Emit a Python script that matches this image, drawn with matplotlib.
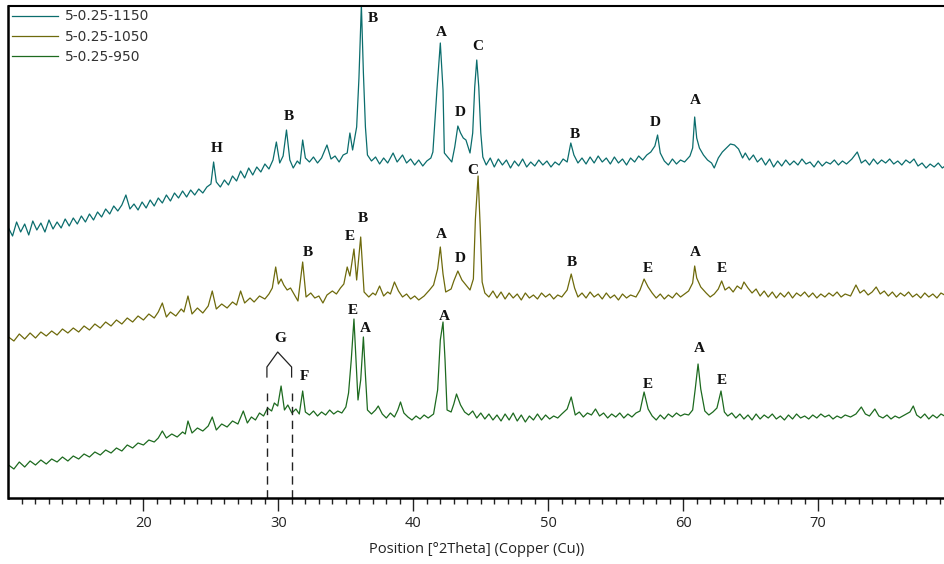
import numpy as np
import matplotlib.pyplot as plt

# ---- data (x in deg 2theta, intensity in plot units) ----
pts_1150 = [
    (10.0, 270), (10.3, 262), (10.6, 276), (10.9, 266), (11.2, 274), (11.5, 263), (11.8, 277), (12.1, 268),
    (12.4, 275), (12.7, 266), (13.0, 278), (13.3, 269), (13.6, 276), (13.9, 270), (14.2, 279), (14.5, 272),
    (14.8, 280), (15.1, 274), (15.4, 282), (15.7, 276), (16.0, 284), (16.3, 278), (16.6, 286), (16.9, 281),
    (17.2, 289), (17.5, 284), (17.8, 292), (18.1, 287), (18.4, 293), (18.7, 303), (19.0, 289), (19.3, 294),
    (19.6, 288), (19.9, 296), (20.2, 290), (20.5, 298), (20.8, 292), (21.1, 300), (21.4, 295), (21.7, 303),
    (22.0, 297), (22.3, 305), (22.6, 300), (22.9, 307), (23.2, 301), (23.5, 308), (23.8, 303), (24.1, 309),
    (24.4, 305), (24.7, 311), (25.0, 314), (25.2, 336), (25.4, 316), (25.7, 311), (26.0, 318), (26.3, 313),
    (26.6, 322), (26.9, 317), (27.2, 327), (27.5, 320), (27.8, 330), (28.1, 323), (28.4, 331), (28.7, 326),
    (29.0, 334), (29.3, 329), (29.6, 338), (29.85, 356), (30.1, 335), (30.35, 342), (30.6, 368), (30.85, 338),
    (31.1, 330), (31.4, 337), (31.6, 334), (31.8, 358), (32.0, 340), (32.3, 336), (32.6, 341), (32.9, 335),
    (33.2, 340), (33.6, 353), (33.9, 339), (34.2, 342), (34.5, 336), (34.8, 343), (35.1, 345), (35.3, 365),
    (35.5, 348), (35.8, 371), (35.97, 420), (36.15, 493), (36.3, 425), (36.45, 371), (36.6, 343), (36.9, 337),
    (37.2, 341), (37.5, 334), (37.8, 340), (38.1, 335), (38.5, 345), (38.8, 336), (39.2, 343), (39.5, 335),
    (39.8, 339), (40.1, 333), (40.4, 338), (40.7, 332), (41.0, 337), (41.3, 340), (41.45, 346), (41.75, 408),
    (42.0, 455), (42.2, 408), (42.3, 345), (42.6, 340), (42.85, 336), (43.07, 351), (43.3, 372), (43.5, 365),
    (43.7, 360), (43.9, 358), (44.2, 345), (44.4, 365), (44.55, 411), (44.7, 438), (44.85, 411), (45.0, 365),
    (45.15, 341), (45.4, 333), (45.7, 340), (46.0, 331), (46.3, 339), (46.6, 333), (46.9, 338), (47.2, 330),
    (47.5, 337), (47.8, 332), (48.1, 339), (48.4, 331), (48.7, 336), (49.0, 332), (49.3, 338), (49.6, 333),
    (49.9, 337), (50.2, 331), (50.5, 336), (50.8, 333), (51.1, 339), (51.4, 336), (51.67, 355), (51.9, 343),
    (52.2, 335), (52.5, 340), (52.8, 334), (53.1, 341), (53.4, 335), (53.7, 342), (54.0, 336), (54.3, 340),
    (54.6, 334), (54.9, 341), (55.2, 335), (55.5, 339), (55.8, 333), (56.1, 340), (56.4, 336), (56.7, 342),
    (57.0, 338), (57.3, 343), (57.6, 346), (57.9, 352), (58.1, 363), (58.3, 345), (58.6, 337), (58.9, 333),
    (59.2, 339), (59.5, 334), (59.8, 338), (60.1, 336), (60.5, 342), (60.7, 350), (60.85, 381), (61.0, 360),
    (61.2, 350), (61.5, 343), (61.8, 338), (62.1, 335), (62.3, 330), (62.6, 340), (62.9, 346), (63.2, 350),
    (63.5, 354), (63.8, 353), (64.1, 349), (64.4, 340), (64.6, 345), (64.9, 338), (65.2, 343), (65.5, 336),
    (65.8, 340), (66.1, 333), (66.4, 339), (66.7, 331), (67.0, 337), (67.3, 332), (67.6, 338), (67.9, 333),
    (68.2, 337), (68.5, 333), (68.8, 339), (69.1, 334), (69.4, 336), (69.7, 331), (70.0, 337), (70.3, 332),
    (70.6, 336), (70.9, 334), (71.2, 338), (71.5, 333), (71.8, 337), (72.1, 334), (72.5, 339), (72.9, 346),
    (73.2, 335), (73.5, 338), (73.8, 333), (74.1, 339), (74.4, 334), (74.7, 338), (75.0, 335), (75.3, 339),
    (75.6, 334), (75.9, 337), (76.2, 333), (76.5, 338), (76.8, 335), (77.1, 339), (77.4, 332), (77.7, 335),
    (78.0, 330), (78.3, 334), (78.6, 331), (78.9, 335), (79.2, 330), (79.5, 333),
]

pts_1050 = [
    (10.0, 161), (10.4, 157), (10.8, 164), (11.2, 159), (11.6, 165), (12.0, 160), (12.4, 166), (12.8, 162),
    (13.2, 167), (13.6, 163), (14.0, 169), (14.4, 165), (14.8, 170), (15.2, 166), (15.6, 172), (16.0, 168),
    (16.4, 174), (16.8, 170), (17.2, 176), (17.6, 172), (18.0, 178), (18.4, 174), (18.8, 180), (19.2, 176),
    (19.6, 182), (20.0, 178), (20.4, 184), (20.8, 180), (21.1, 186), (21.4, 195), (21.7, 181), (22.0, 186),
    (22.4, 182), (22.8, 189), (23.0, 186), (23.3, 202), (23.6, 184), (24.0, 190), (24.4, 185), (24.8, 192),
    (25.1, 207), (25.4, 189), (25.8, 194), (26.2, 190), (26.6, 196), (26.9, 193), (27.2, 207), (27.5, 195),
    (27.9, 200), (28.2, 196), (28.6, 202), (29.0, 199), (29.3, 204), (29.55, 210), (29.8, 231), (30.0, 214),
    (30.2, 219), (30.4, 213), (30.65, 208), (30.9, 210), (31.2, 203), (31.45, 197), (31.8, 236), (32.05, 201),
    (32.4, 205), (32.7, 200), (33.0, 202), (33.3, 195), (33.6, 203), (34.0, 207), (34.3, 204), (34.6, 210),
    (34.85, 214), (35.1, 231), (35.3, 222), (35.6, 249), (35.8, 218), (36.1, 261), (36.35, 206), (36.7, 201),
    (37.0, 205), (37.2, 203), (37.5, 212), (37.8, 202), (38.1, 206), (38.3, 204), (38.6, 216), (38.9, 207),
    (39.2, 201), (39.5, 204), (39.8, 199), (40.1, 202), (40.4, 198), (40.8, 202), (41.2, 208), (41.5, 213),
    (41.8, 229), (42.0, 251), (42.2, 224), (42.4, 206), (42.8, 209), (43.0, 217), (43.3, 227), (43.6, 218),
    (43.9, 213), (44.2, 208), (44.45, 219), (44.6, 279), (44.8, 322), (44.95, 273), (45.1, 216), (45.3, 205),
    (45.6, 201), (45.9, 207), (46.2, 200), (46.5, 206), (46.8, 199), (47.1, 205), (47.4, 200), (47.7, 204),
    (48.0, 198), (48.3, 205), (48.6, 200), (48.9, 203), (49.2, 199), (49.5, 205), (49.8, 201), (50.1, 204),
    (50.4, 199), (50.7, 203), (51.0, 201), (51.4, 208), (51.7, 224), (51.95, 210), (52.2, 201), (52.5, 205),
    (52.8, 200), (53.1, 206), (53.4, 201), (53.7, 204), (54.0, 199), (54.3, 205), (54.6, 200), (54.9, 203),
    (55.2, 198), (55.5, 204), (55.8, 200), (56.1, 203), (56.5, 201), (56.8, 208), (57.1, 219), (57.4, 211),
    (57.7, 205), (58.0, 200), (58.3, 204), (58.6, 199), (58.9, 203), (59.2, 200), (59.5, 205), (59.8, 201),
    (60.1, 204), (60.4, 207), (60.7, 215), (60.85, 232), (61.0, 220), (61.3, 211), (61.7, 205), (62.0, 201),
    (62.3, 204), (62.6, 209), (62.85, 217), (63.1, 208), (63.4, 211), (63.7, 206), (64.0, 212), (64.3, 209),
    (64.5, 216), (64.8, 210), (65.1, 205), (65.4, 209), (65.7, 202), (66.0, 207), (66.3, 201), (66.6, 206),
    (66.9, 200), (67.2, 205), (67.5, 201), (67.8, 206), (68.1, 200), (68.4, 205), (68.7, 202), (69.0, 206),
    (69.3, 201), (69.6, 205), (69.9, 200), (70.2, 204), (70.5, 201), (70.8, 205), (71.1, 202), (71.4, 206),
    (71.7, 201), (72.0, 204), (72.4, 202), (72.8, 213), (73.1, 205), (73.4, 208), (73.7, 203), (74.0, 206),
    (74.3, 211), (74.6, 204), (74.9, 207), (75.2, 202), (75.5, 206), (75.8, 201), (76.1, 205), (76.4, 202),
    (76.7, 206), (77.0, 201), (77.3, 204), (77.6, 200), (77.9, 205), (78.2, 201), (78.5, 204), (78.8, 200),
    (79.1, 205), (79.5, 202),
]

pts_950 = [
    (10.0, 33), (10.4, 29), (10.8, 36), (11.2, 31), (11.6, 37), (12.0, 33), (12.4, 38), (12.8, 34),
    (13.2, 39), (13.6, 36), (14.0, 41), (14.4, 37), (14.8, 42), (15.2, 39), (15.6, 44), (16.0, 41),
    (16.4, 46), (16.8, 43), (17.2, 48), (17.6, 45), (18.0, 50), (18.4, 47), (18.8, 53), (19.2, 50),
    (19.6, 55), (20.0, 53), (20.4, 58), (20.8, 56), (21.1, 60), (21.4, 67), (21.7, 60), (22.1, 64),
    (22.5, 61), (22.9, 66), (23.1, 64), (23.3, 77), (23.6, 65), (24.0, 70), (24.4, 67), (24.8, 72),
    (25.1, 81), (25.4, 68), (25.8, 74), (26.2, 71), (26.6, 77), (27.0, 74), (27.4, 87), (27.7, 75),
    (28.0, 81), (28.3, 78), (28.6, 85), (28.9, 82), (29.2, 90), (29.5, 87), (29.7, 95), (29.95, 92),
    (30.2, 112), (30.45, 88), (30.7, 93), (31.0, 85), (31.3, 89), (31.55, 84), (31.8, 107), (32.0, 86),
    (32.3, 83), (32.6, 87), (32.9, 82), (33.2, 86), (33.5, 83), (33.8, 88), (34.1, 84), (34.4, 87),
    (34.7, 85), (35.0, 91), (35.2, 105), (35.4, 138), (35.6, 179), (35.75, 138), (35.9, 98), (36.1, 118),
    (36.3, 161), (36.45, 123), (36.6, 88), (36.9, 84), (37.2, 88), (37.4, 92), (37.7, 84), (38.0, 80),
    (38.3, 85), (38.6, 81), (38.85, 88), (39.05, 96), (39.3, 85), (39.6, 81), (39.9, 78), (40.2, 82),
    (40.5, 79), (40.8, 83), (41.1, 80), (41.5, 84), (41.8, 108), (42.0, 158), (42.2, 176), (42.35, 138),
    (42.5, 88), (42.8, 86), (43.0, 94), (43.2, 104), (43.5, 93), (43.8, 86), (44.1, 83), (44.4, 87),
    (44.7, 80), (45.0, 85), (45.3, 79), (45.6, 84), (45.9, 78), (46.2, 83), (46.5, 77), (46.8, 84),
    (47.1, 78), (47.4, 85), (47.7, 77), (48.0, 83), (48.3, 76), (48.6, 82), (48.9, 78), (49.2, 84),
    (49.5, 78), (49.8, 83), (50.1, 79), (50.4, 82), (50.7, 80), (51.0, 84), (51.4, 89), (51.7, 101),
    (52.0, 83), (52.3, 86), (52.6, 81), (52.9, 85), (53.2, 83), (53.5, 89), (53.8, 82), (54.1, 85),
    (54.4, 80), (54.7, 84), (55.0, 81), (55.3, 85), (55.6, 80), (55.9, 84), (56.2, 81), (56.5, 85),
    (56.8, 87), (57.1, 106), (57.4, 89), (57.7, 82), (58.0, 78), (58.3, 83), (58.6, 79), (58.9, 84),
    (59.2, 81), (59.5, 85), (59.8, 82), (60.1, 84), (60.4, 83), (60.7, 88), (60.9, 110), (61.1, 134),
    (61.3, 109), (61.6, 87), (61.9, 83), (62.2, 86), (62.5, 90), (62.8, 107), (63.05, 86), (63.3, 82),
    (63.6, 85), (63.9, 80), (64.2, 84), (64.5, 79), (64.8, 83), (65.1, 78), (65.4, 84), (65.7, 79),
    (66.0, 83), (66.3, 80), (66.6, 84), (66.9, 79), (67.2, 82), (67.5, 78), (67.8, 83), (68.1, 79),
    (68.4, 84), (68.7, 80), (69.0, 82), (69.3, 79), (69.6, 83), (69.9, 80), (70.2, 84), (70.5, 81),
    (70.8, 83), (71.1, 79), (71.4, 82), (71.7, 80), (72.0, 83), (72.4, 81), (72.8, 84), (73.2, 91),
    (73.5, 84), (73.8, 82), (74.2, 89), (74.5, 82), (74.8, 80), (75.1, 83), (75.4, 79), (75.7, 82),
    (76.0, 80), (76.4, 83), (76.8, 86), (77.05, 92), (77.3, 83), (77.6, 80), (77.9, 84), (78.2, 79),
    (78.5, 83), (78.8, 80), (79.1, 84), (79.5, 81),
]

labels = ["5-0.25-1150", "5-0.25-1050", "5-0.25-950"]
colors = ["#0b6d6d", "#6e6a0c", "#1d6a1f"]

# peak letters: (letter, x, y)
marks_1150 = [("H", 25.44, 350), ("B", 30.75, 382), ("B", 36.98, 479), ("A", 42.05, 466),
              ("D", 43.5, 385), ("C", 44.8, 451), ("B", 51.96, 363), ("D", 57.96, 375),
              ("A", 60.9, 397)]
marks_1050 = [("B", 32.15, 245), ("E", 35.3, 262), ("B", 36.26, 280), ("A", 42.06, 263),
              ("D", 43.45, 239), ("C", 44.38, 327), ("B", 51.74, 235), ("E", 57.35, 229),
              ("A", 60.9, 246), ("E", 62.86, 230)]
marks_950 = [("G", 30.11, 160), ("F", 31.96, 121), ("E", 35.5, 188), ("A", 36.48, 169),
             ("A", 42.27, 181), ("E", 57.35, 114), ("A", 61.2, 150), ("E", 62.86, 118)]

# G bracket and dashed markers
g_left, g_right, g_mid = 29.15, 30.98, 29.95

fig = plt.figure(figsize=(9.45, 5.64), dpi=100)
ax = fig.add_axes([8.5 / 945, 66 / 564, 936.5 / 945, 492 / 564])

for pts, lab, col in zip([pts_1150, pts_1050, pts_950], labels, colors):
    xy = np.array(pts)
    ax.plot(xy[:, 0], xy[:, 1], color=col, lw=0.9, label=lab)

for marks in [marks_1150, marks_1050, marks_950]:
    for t, x, y in marks:
        ax.text(x, y, t, ha="center", va="center", fontsize=11, fontweight="bold",
                family="Liberation Serif", color="#111111")

ax.plot([g_left, g_left, g_mid, g_right, g_right], [121, 131, 146, 131, 121], color="#222222", lw=0.9)
for gx in [g_left, g_right]:
    ax.plot([gx, gx], [0, 105], color="#222222", lw=1.0, ls=(0, (6, 4)))

ax.set_xlim(10, 79.4)
ax.set_ylim(0, 492)
ax.set_yticks([])
ax.set_xticks(range(20, 80, 10))
ax.set_xticks(range(11, 80), minor=True)
ax.tick_params(axis="x", which="major", length=9, width=1, pad=4, labelsize=10.5, colors="#222222")
ax.tick_params(axis="x", which="minor", length=4, width=1, colors="#222222")
ax.spines["right"].set_visible(False)
ax.spines["bottom"].set_linewidth(1.8)
ax.spines["left"].set_linewidth(1.8)
ax.spines["top"].set_linewidth(1.5)
ax.set_xlabel("Position [°2Theta] (Copper (Cu))", fontsize=10.5, family="Open Sans", color="#222222", labelpad=8)
for lbl in ax.get_xticklabels():
    lbl.set_family("Open Sans")

ax.legend(loc="upper left", frameon=False, fontsize=10, handlelength=3.3, handletextpad=0.5,
          labelspacing=0.45, borderaxespad=0.25, borderpad=0.0, labelcolor="#333333")

fig.savefig("out.png", dpi=100)
